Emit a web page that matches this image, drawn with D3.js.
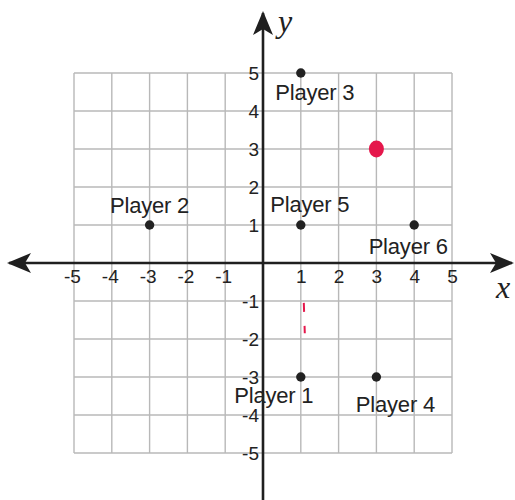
<!DOCTYPE html>
<html>
<head>
<meta charset="utf-8">
<script src="https://cdn.jsdelivr.net/npm/d3@7.9.0/dist/d3.min.js"></script>
<style>
  html, body { margin: 0; padding: 0; background: #fff; }
  svg { display: block; }
</style>
</head>
<body>
<svg id="chart" width="515" height="500"></svg>
<script>
// grid range and tick values
const gridMin = -5, gridMax = 5;
const tickValues = [-5, -4, -3, -2, -1, 1, 2, 3, 4, 5];

// plotted players
const playerNames = ["Player 1", "Player 2", "Player 3", "Player 4", "Player 5", "Player 6"];
const playerX = [1, -3, 1, 3, 1, 4];
const playerY = [-3, 1, 5, -3, 1, 1];

// hand-drawn red mark
const markX = [3];
const markY = [3];

const players = playerNames.map((name, i) => ({ name, x: playerX[i], y: playerY[i] }));

// label placement around each point (px)
const labelOffset = {
  "Player 1": [-27, 26],
  "Player 2": [0, -12],
  "Player 3": [14, 27],
  "Player 4": [19, 35],
  "Player 5": [9, -13],
  "Player 6": [-6, 29]
};

const svg = d3.select("#chart");
const W = +svg.attr("width"), H = +svg.attr("height");

const x = d3.scaleLinear().domain([gridMin, gridMax]).range([74, 452]);
const y = d3.scaleLinear().domain([gridMin, gridMax]).range([453, 73]);

const gridVals = d3.range(gridMin, gridMax + 1);

// grid
const grid = svg.append("g").attr("stroke", "#b8b8b8").attr("stroke-width", 1.4);
grid.selectAll(".gv").data(gridVals).enter().append("line")
  .attr("x1", d => x(d)).attr("x2", d => x(d))
  .attr("y1", y(gridMax)).attr("y2", y(gridMin));
grid.selectAll(".gh").data(gridVals).enter().append("line")
  .attr("y1", d => y(d)).attr("y2", d => y(d))
  .attr("x1", x(gridMin)).attr("x2", x(gridMax));

// arrowhead marker
const defs = svg.append("defs");
defs.append("marker")
  .attr("id", "arrow")
  .attr("viewBox", "0 -10 24 20")
  .attr("refX", 22).attr("refY", 0)
  .attr("markerWidth", 24).attr("markerHeight", 20)
  .attr("markerUnits", "userSpaceOnUse")
  .attr("orient", "auto-start-reverse")
  .append("path")
  .attr("d", "M24,0 L0,-10 L6,0 L0,10 Z")
  .attr("fill", "#1f1f1f");

// axes lines
svg.append("line")
  .attr("x1", 9).attr("x2", 512)
  .attr("y1", y(0)).attr("y2", y(0))
  .attr("stroke", "#1f1f1f").attr("stroke-width", 2.6)
  .attr("marker-start", "url(#arrow)")
  .attr("marker-end", "url(#arrow)");

svg.append("line")
  .attr("x1", x(0)).attr("x2", x(0))
  .attr("y1", H).attr("y2", 13)
  .attr("stroke", "#1f1f1f").attr("stroke-width", 2.6)
  .attr("marker-end", "url(#arrow)");

// tick labels via d3 axes (plain hyphen minus, as printed)
const fontTick = "'Liberation Sans', Arial, sans-serif";
const fmt = d => String(d);

const xAxis = svg.append("g")
  .attr("transform", `translate(0,${y(0) + 1})`)
  .call(d3.axisBottom(x).tickValues(tickValues).tickFormat(fmt).tickSize(0).tickPadding(6));
xAxis.select(".domain").remove();
xAxis.selectAll("text")
  .style("font-family", fontTick).style("font-size", "19px").attr("fill", "#222")
  .attr("dx", d => d < 0 ? "-2px" : "0");

const yAxis = svg.append("g")
  .attr("transform", `translate(${x(0) - 4},0)`)
  .call(d3.axisLeft(y).tickValues(tickValues).tickFormat(fmt).tickSize(0).tickPadding(0));
yAxis.select(".domain").remove();
yAxis.selectAll("text")
  .style("font-family", fontTick).style("font-size", "19px").attr("fill", "#222");

// axis names
svg.append("text")
  .attr("x", 278).attr("y", 32)
  .style("font-family", "'Liberation Serif', 'Times New Roman', serif")
  .style("font-style", "italic").style("font-size", "32px")
  .attr("fill", "#222").text("y");
svg.append("text")
  .attr("x", 496).attr("y", 298)
  .style("font-family", "'Liberation Serif', 'Times New Roman', serif")
  .style("font-style", "italic").style("font-size", "32px")
  .attr("fill", "#222").text("x");

// red pen marks
svg.append("line")
  .attr("x1", x(1) + 3).attr("x2", x(1) + 4)
  .attr("y1", y(-1.05)).attr("y2", y(-1.85))
  .attr("stroke", "#e5174b").attr("stroke-width", 2)
  .attr("stroke-dasharray", "9,14");

svg.selectAll(".mark").data(markX).enter().append("ellipse")
  .attr("cx", (d) => x(d))
  .attr("cy", (d, i) => y(markY[i]))
  .attr("rx", 7.5).attr("ry", 8.5)
  .attr("fill", "#e5174b");

// players
svg.selectAll(".pt").data(players).enter().append("circle")
  .attr("cx", d => x(d.x)).attr("cy", d => y(d.y))
  .attr("r", 4.7).attr("fill", "#222");

svg.selectAll(".lbl").data(players).enter().append("text")
  .attr("x", d => x(d.x) + labelOffset[d.name][0])
  .attr("y", d => y(d.y) + labelOffset[d.name][1])
  .attr("text-anchor", "middle")
  .style("font-family", fontTick).style("font-size", "22px")
  .style("letter-spacing", "-0.2px")
  .attr("fill", "#222")
  .text(d => d.name);
</script>
</body>
</html>
